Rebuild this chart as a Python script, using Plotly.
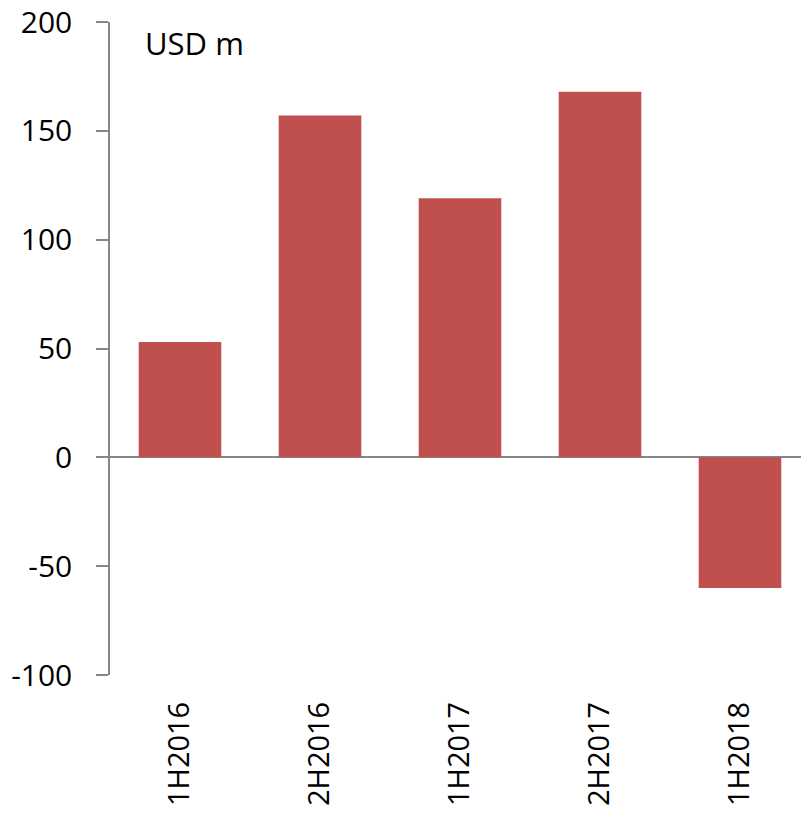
import plotly.graph_objects as go

# Half-year results, USD m
periods = ["1H2016", "2H2016", "1H2017", "2H2017", "1H2018"]
values = [53, 157, 119, 168, -60]
y_ticks = [-100, -50, 0, 50, 100, 150, 200]
y_tick_text = ["-100", "-50", "0", "50", "100", "150", "200"]

bar_color = "#C0504D"
axis_color = "#868686"
font_family = "Open Sans, Lato, sans-serif"

# plot area in pixels
plot_left, plot_top, plot_bottom = 110, 22, 675
fig_w, fig_h = 801, 817
category_px = 140

fig = go.Figure(
    go.Bar(
        x=periods,
        y=values,
        marker=dict(color=bar_color, line=dict(width=0)),
        width=0.59,
    )
)

fig.update_layout(
    width=fig_w,
    height=fig_h,
    margin=dict(l=plot_left, r=0, t=plot_top, b=fig_h - plot_bottom),
    paper_bgcolor="white",
    plot_bgcolor="white",
    showlegend=False,
    font=dict(family=font_family, size=29, color="black"),
)

fig.update_xaxes(
    type="category",
    range=[-0.5, -0.5 + (fig_w - plot_left) / category_px],
    tickangle=-90,
    showline=False,
    showgrid=False,
    ticks="",
    ticklabelstandoff=20,
    tickfont=dict(size=29),
)

fig.update_yaxes(
    range=[-100, 200],
    tickvals=y_ticks,
    ticktext=y_tick_text,
    showgrid=False,
    showline=True,
    linecolor=axis_color,
    linewidth=1.5,
    ticks="outside",
    ticklen=12,
    tickwidth=1.5,
    tickcolor=axis_color,
    ticklabelstandoff=18,
    zeroline=True,
    zerolinecolor=axis_color,
    zerolinewidth=2,
    tickfont=dict(size=30),
)

fig.add_annotation(
    text="USD m",
    xref="paper",
    yref="paper",
    x=(143 - plot_left) / (fig_w - plot_left),
    y=(plot_bottom - 43) / (plot_bottom - plot_top),
    xanchor="left",
    yanchor="middle",
    showarrow=False,
    font=dict(size=31, color="black"),
)

fig.write_html("out.html")
